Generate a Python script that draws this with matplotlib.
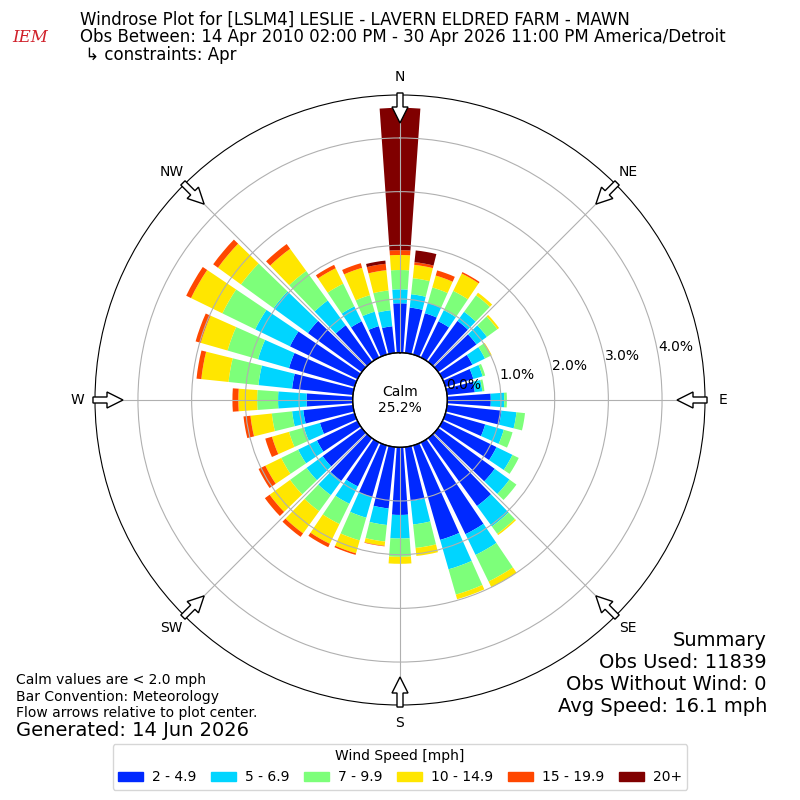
import numpy as np
import matplotlib
matplotlib.use("Agg")
import matplotlib.pyplot as plt
from matplotlib.patches import FancyArrow, Patch

# direction of bar centres (deg, meteorological)
directions = np.arange(0, 360, 10)

# percent of observations in each speed bin, per direction
spd_2_5 = [0.92, 0.85, 0.80, 0.75, 0.94, 0.88, 0.62, 0.54, 0.52,
           0.81, 1.02, 0.77, 1.12, 1.30, 1.56, 1.90, 1.83, 1.01,
           1.26, 1.15, 1.00, 0.91, 0.98, 0.90, 0.84, 0.67, 0.93,
           0.86, 1.14, 1.27, 1.40, 1.24, 0.84, 0.75, 0.55, 0.50]
spd_5_7 = [0.26, 0.25, 0.20, 0.23, 0.21, 0.24, 0.26, 0.18, 0.14,
           0.25, 0.28, 0.36, 0.33, 0.34, 0.47, 0.43, 0.57, 0.44,
           0.44, 0.31, 0.40, 0.36, 0.33, 0.37, 0.39, 0.31, 0.21,
           0.53, 0.63, 0.60, 0.72, 0.79, 0.57, 0.31, 0.28, 0.30]
spd_7_10 = [0.36, 0.30, 0.30, 0.40, 0.38, 0.24, 0.12, 0.05, 0.04,
            0.05, 0.16, 0.17, 0.13, 0.16, 0.17, 0.55, 0.49, 0.44,
            0.34, 0.31, 0.44, 0.42, 0.37, 0.38, 0.35, 0.29, 0.38,
            0.39, 0.56, 0.59, 0.68, 0.75, 0.68, 0.47, 0.32, 0.37]
spd_10_15 = [0.28, 0.25, 0.23, 0.36, 0.06, 0.04, 0.02, 0.00, 0.00,
             0.00, 0.00, 0.00, 0.00, 0.00, 0.03, 0.12, 0.09, 0.15,
             0.13, 0.08, 0.25, 0.41, 0.51, 0.47, 0.33, 0.33, 0.40,
             0.35, 0.51, 0.52, 0.65, 0.53, 0.51, 0.32, 0.53, 0.38]
spd_15_20 = [0.09, 0.05, 0.10, 0.03, 0.00, 0.00, 0.00, 0.00, 0.00,
             0.00, 0.00, 0.00, 0.00, 0.00, 0.00, 0.00, 0.00, 0.00,
             0.00, 0.01, 0.03, 0.07, 0.08, 0.11, 0.14, 0.13, 0.13,
             0.11, 0.09, 0.10, 0.10, 0.11, 0.11, 0.07, 0.09, 0.12]
spd_20 = [2.65, 0.22, 0.00, 0.00, 0.00, 0.00, 0.00, 0.00, 0.00,
          0.00, 0.00, 0.00, 0.00, 0.00, 0.00, 0.00, 0.00, 0.00,
          0.00, 0.00, 0.00, 0.00, 0.00, 0.00, 0.00, 0.00, 0.00,
          0.00, 0.00, 0.00, 0.00, 0.00, 0.00, 0.00, 0.00, 0.06]

bins = [spd_2_5, spd_5_7, spd_7_10, spd_10_15, spd_15_20, spd_20]
bin_labels = ["2 - 4.9", "5 - 6.9", "7 - 9.9", "10 - 14.9", "15 - 19.9", "20+"]
colors = plt.cm.jet(np.linspace(0, 1, 7)[1:])

calm_pct = 25.2
rticks = [0, 1, 2, 3, 4]
compass = ["N", "NE", "E", "SE", "S", "SW", "W", "NW"]

fig = plt.figure(figsize=(8, 8), dpi=100)
ax = fig.add_axes([0.11875, 0.11875, 0.7625, 0.7625], projection="polar")
ax.set_theta_zero_location("N")
ax.set_theta_direction(-1)

theta = np.deg2rad(directions)
width = np.deg2rad(8)
bottom = np.zeros(len(directions))
for vals, col in zip(bins, colors):
    vals = np.array(vals)
    ax.bar(theta, vals, width=width, bottom=bottom, color=col, zorder=1)
    bottom = bottom + vals

ax.set_ylim(0, 4.8)
ax.set_rorigin(-0.881)
ax.set_rticks(rticks)
ax.set_yticklabels(["%.1f%%" % t for t in rticks])
ax.set_rlabel_position(79.8)
ax.set_thetagrids(np.arange(0, 360, 45), compass)
ax.tick_params(axis="x", pad=2.3)
ax.grid(True, color="#b0b0b0", lw=0.8)

# calm circle
ct = np.linspace(0, 2 * np.pi, 300)
ax.plot(ct, np.zeros_like(ct), color="k", lw=1, clip_on=False, zorder=4)
ax.text(0.5, 0.5, "Calm\n%.1f%%" % calm_pct, transform=ax.transAxes,
        ha="center", va="center", fontsize=10)

# flow arrows at the edge pointing to the centre
for d in range(0, 360, 45):
    s, c = np.sin(np.deg2rad(d)), np.cos(np.deg2rad(d))
    r0, ln = 0.5033, 0.0492
    arr = FancyArrow(0.5 + r0 * s, 0.5 + r0 * c, -ln * s, -ln * c,
                     width=6 / 610, head_width=16 / 610, head_length=16 / 610,
                     length_includes_head=True, fc="white", ec="k", lw=1,
                     transform=ax.transAxes, clip_on=False, zorder=6)
    ax.add_patch(arr)

# header
fig.text(0.1, 1 - 20 / 800, "Windrose Plot for [LSLM4] LESLIE - LAVERN ELDRED FARM - MAWN",
         fontsize=12, va="center")
fig.text(0.1, 1 - 37 / 800,
         "Obs Between: 14 Apr 2010 02:00 PM - 30 Apr 2026 11:00 PM America/Detroit",
         fontsize=12, va="center")
fig.text(0.1, 1 - 55 / 800, " \u21b3 constraints: Apr", fontsize=12, va="center")
fig.text(0.038, 1 - 38 / 800, "IEM", color="#d0202a", fontsize=12,
         family="DejaVu Serif", style="italic", ha="center", va="center")

# footer notes
fig.text(0.02, 1 - 680 / 800, "Calm values are < 2.0 mph", fontsize=10, va="center")
fig.text(0.02, 1 - 697 / 800, "Bar Convention: Meteorology", fontsize=10, va="center")
fig.text(0.02, 1 - 713 / 800, "Flow arrows relative to plot center.", fontsize=10, va="center")
fig.text(0.02, 1 - 730 / 800, "Generated: 14 Jun 2026", fontsize=14, va="center")

summary = ["Summary", "Obs Used: 11839", "Obs Without Wind: 0", "Avg Speed: 16.1 mph"]
for i, line in enumerate(summary):
    fig.text(767 / 800, 1 - (640 + 22 * i) / 800, line, fontsize=14,
             ha="right", va="center")

handles = [Patch(color=c) for c in colors]
fig.legend(handles, bin_labels, loc="lower center", bbox_to_anchor=(0.5, 0.004),
           ncol=6, title="Wind Speed [mph]", fontsize=10, title_fontsize=10,
           columnspacing=1.07, handlelength=1.8, handletextpad=0.63)

fig.savefig("out.png", dpi=100)
